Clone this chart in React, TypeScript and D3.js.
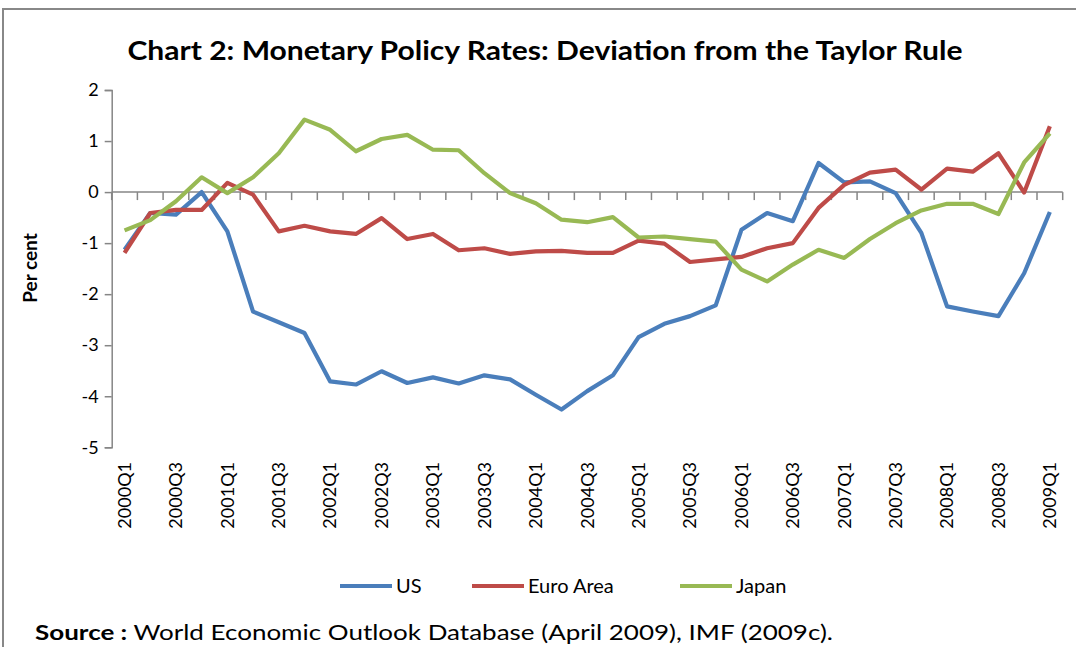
import React, { useEffect, useRef } from "react";
import * as d3 from "d3";

const quarters: string[] = [];
for (let y = 2000; y <= 2009; y++) {
  for (let q = 1; q <= 4; q++) {
    if (y === 2009 && q > 1) break;
    quarters.push(`${y}Q${q}`);
  }
}

const usValues = [
  -1.13, -0.41, -0.44, 0.0, -0.77, -2.34, -2.55, -2.76, -3.71, -3.77, -3.51, -3.74, -3.63,
  -3.75, -3.59, -3.67, -3.97, -4.26, -3.9, -3.59, -2.84, -2.58, -2.43, -2.22, -0.74,
  -0.41, -0.57, 0.57, 0.19, 0.21, -0.02, -0.8, -2.24, -2.34, -2.43, -1.59, -0.39,
];
const euroValues = [
  -1.19, -0.41, -0.35, -0.35, 0.18, -0.05, -0.77, -0.66, -0.77, -0.82, -0.51, -0.92, -0.82,
  -1.14, -1.1, -1.21, -1.16, -1.15, -1.19, -1.19, -0.95, -1.01, -1.37, -1.32, -1.27,
  -1.1, -1.0, -0.31, 0.14, 0.38, 0.44, 0.05, 0.46, 0.4, 0.76, -0.01, 1.29,
];
const japanValues = [
  -0.75, -0.55, -0.18, 0.29, -0.02, 0.29, 0.76, 1.42, 1.22, 0.8, 1.04, 1.12, 0.83,
  0.82, 0.37, -0.02, -0.22, -0.54, -0.59, -0.49, -0.89, -0.87, -0.92, -0.97, -1.52,
  -1.75, -1.42, -1.13, -1.29, -0.92, -0.61, -0.36, -0.23, -0.23, -0.43, 0.58, 1.15,
];

const seriesNames = ["US", "Euro Area", "Japan"];
const seriesColors = ["#4A7EBB", "#BE4B48", "#98B954"];
const yTicks = [2, 1, 0, -1, -2, -3, -4, -5];

const font = "Lato, 'Open Sans', sans-serif";

export default function App() {
  const ref = useRef<SVGSVGElement>(null);
  const width = 1076;
  const height = 647;

  useEffect(() => {
    const svg = d3.select(ref.current);
    svg.selectAll("*").remove();

    const x = d3.scaleBand().domain(quarters).range([111.7, 1062.7]);
    const y = d3.scaleLinear().domain([-5, 2]).range([447.3, 90]);
    const cx = (q: string) => (x(q) as number) + x.bandwidth() / 2;

    // outer frame
    svg.append("rect")
      .attr("x", 3).attr("y", 9)
      .attr("width", width + 20).attr("height", height + 20)
      .attr("fill", "none").attr("stroke", "#888").attr("stroke-width", 2);

    // title
    svg.append("text")
      .attr("x", 545).attr("y", 60)
      .attr("text-anchor", "middle")
      .attr("font-family", font).attr("font-weight", "bold").attr("font-size", 26)
      .attr("textLength", 835).attr("lengthAdjust", "spacingAndGlyphs")
      .attr("fill", "#000")
      .text("Chart 2: Monetary Policy Rates: Deviation from  the Taylor Rule");

    // y axis
    const yAxis = svg.append("g")
      .attr("transform", "translate(111.7,0)")
      .call(d3.axisLeft(y).tickValues(yTicks).tickSize(7).tickPadding(6).tickFormat((d) => String(d)));
    yAxis.select(".domain").attr("stroke", "#868686").attr("stroke-width", 1.5);
    yAxis.selectAll(".tick line").attr("stroke", "#868686").attr("stroke-width", 1.5);
    yAxis.selectAll(".tick text")
      .attr("font-family", font).attr("font-size", 18).attr("fill", "#000");

    // x axis at zero
    const y0 = y(0);
    const xg = svg.append("g");
    xg.append("line")
      .attr("x1", 111.7).attr("x2", 1062.7).attr("y1", y0).attr("y2", y0)
      .attr("stroke", "#868686").attr("stroke-width", 1.5);
    const bounds = quarters.map((q) => x(q) as number).concat([1062.7]);
    xg.selectAll("line.tk").data(bounds).join("line")
      .attr("class", "tk")
      .attr("x1", (d) => d).attr("x2", (d) => d)
      .attr("y1", y0).attr("y2", y0 + 8)
      .attr("stroke", "#868686").attr("stroke-width", 1.5);

    // x labels
    svg.append("g").selectAll("text")
      .data(quarters.filter((_, i) => i % 2 === 0))
      .join("text")
      .attr("transform", (d) => `translate(${cx(d)},462) rotate(-90)`)
      .attr("dy", "0.35em")
      .attr("text-anchor", "end")
      .attr("font-family", font).attr("font-size", 18).attr("fill", "#000")
      .text((d) => d);

    // y title
    svg.append("text")
      .attr("transform", "translate(37,268) rotate(-90)")
      .attr("text-anchor", "middle")
      .attr("font-family", font).attr("font-weight", "bold").attr("font-size", 19)
      .text("Per cent");

    // lines
    const allSeries = [usValues, euroValues, japanValues];
    const line = d3.line<number>()
      .x((_, i) => cx(quarters[i]))
      .y((d) => y(d));
    svg.append("g").selectAll("path")
      .data(allSeries)
      .join("path")
      .attr("d", (d) => line(d))
      .attr("fill", "none")
      .attr("stroke", (_, i) => seriesColors[i])
      .attr("stroke-width", 4.2)
      .attr("stroke-linejoin", "round");

    // legend
    const legendX = [340, 472, 680];
    const lg = svg.append("g");
    seriesNames.forEach((name, i) => {
      lg.append("line")
        .attr("x1", legendX[i]).attr("x2", legendX[i] + 52)
        .attr("y1", 586).attr("y2", 586)
        .attr("stroke", seriesColors[i]).attr("stroke-width", 4.2);
      lg.append("text")
        .attr("x", legendX[i] + 56).attr("y", 593)
        .attr("font-family", font).attr("font-size", 20).attr("fill", "#000")
        .text(name);
    });

    // source
    const src = svg.append("text")
      .attr("x", 35).attr("y", 640)
      .attr("font-family", font).attr("font-size", 21.5).attr("fill", "#000")
      .attr("textLength", 798).attr("lengthAdjust", "spacingAndGlyphs");
    src.append("tspan").attr("font-weight", "bold").text("Source :");
    src.append("tspan").text(" World Economic Outlook Database (April 2009), IMF (2009c).");
  }, []);

  return (
    <svg
      ref={ref}
      width={width}
      height={height}
      style={{ position: "absolute", left: 0, top: 0, background: "#fff" }}
    />
  );
}
